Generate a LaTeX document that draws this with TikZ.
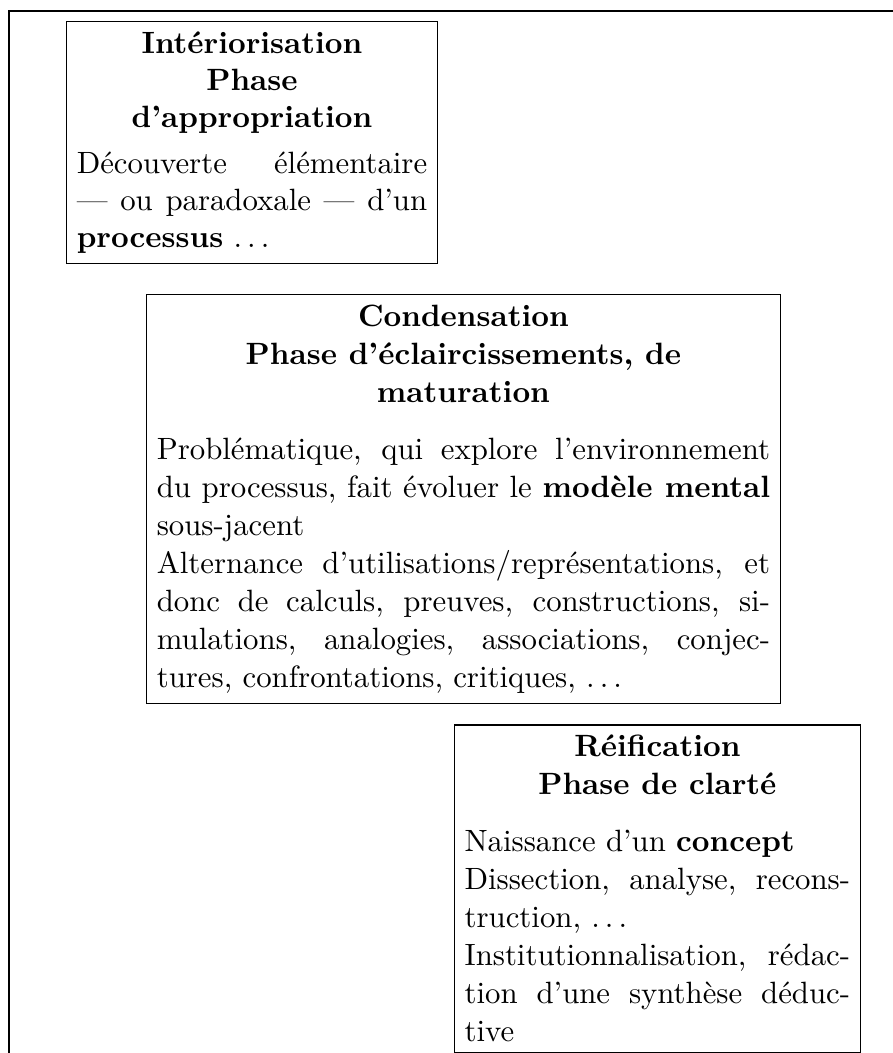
\documentclass[tikz,border=0pt]{standalone}
\usepackage{fontspec}
\usetikzlibrary{positioning}
\begin{document}
\begin{tikzpicture}[
    phase/.style={draw, rectangle, inner sep=0.3333em,
        execute at begin node={\tolerance=10000\hyphenpenalty=10000}},
    aere/.style={execute at begin node={\linespread{1.03}\selectfont}}]
    \useasboundingbox (0,0) rectangle (290pt,-342pt);
    \coordinate (cadre) at (2.9pt,-3.6pt);
    \draw (cadre) ++(0,-340pt) -- (cadre) -- ++(290pt,0);

    \node[phase, anchor=north west] (inter) at (21.4pt,-6.8pt) {\begin{minipage}{4cm}
        {\centering\bfseries Intériorisation\\ Phase\\ d'appropriation\par}\smallskip
        Découverte élémentaire\linebreak --- ou paradoxale --- d'un\linebreak
        \textbf{processus} $\ldots$
    \end{minipage}};
    \node[phase, aere, below=9.7pt of inter.south west, anchor=north west, xshift=26pt] (cond) {\begin{minipage}{7cm}
        {\centering\bfseries Condensation\\ Phase d'éclaircissements, de\\ maturation\par}\medskip
        Problématique, qui explore l'environnement\linebreak
        du processus, fait évoluer le \textbf{modèle mental}\linebreak
        sous-jacent\\
        Alternance d'utilisations/représentations, et\linebreak
        donc de calculs, preuves, constructions, si-\linebreak
        mulations, analogies, associations, conjec-\linebreak
        tures, confrontations, critiques, $\ldots$
    \end{minipage}};
    \node[phase, aere, below=6.5pt of cond.south east, anchor=north east, xshift=26pt] (reif) {\begin{minipage}{4.4cm}
        {\centering\bfseries Réification\\ Phase de clarté\par}\medskip
        Naissance d'un \textbf{concept}\\
        Dissection, analyse, recons-\linebreak
        truction, $\ldots$\\
        Institutionnalisation, rédac-\linebreak
        tion d'une synthèse déduc-\linebreak
        tive
    \end{minipage}};
\end{tikzpicture}
\end{document}
